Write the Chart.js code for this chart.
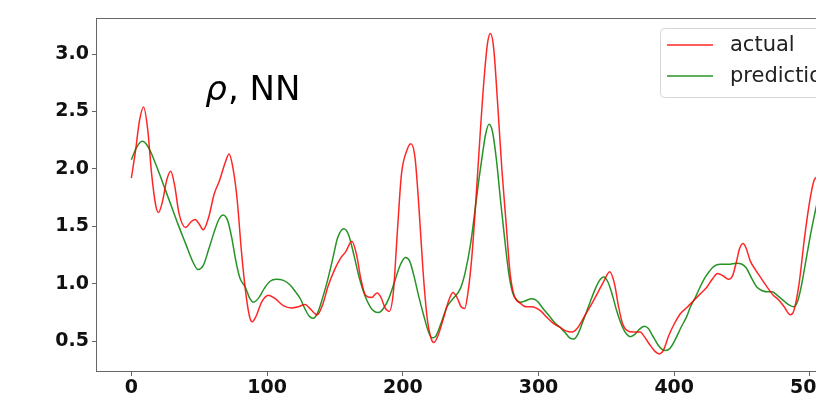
<!DOCTYPE html>
<html>
<head>
<meta charset="utf-8">
<script src="https://cdn.jsdelivr.net/npm/chart.js@4/dist/chart.umd.min.js"></script>
<style>
  html, body { margin: 0; padding: 0; background: #fff; overflow: hidden; width: 816px; height: 402px; }
  #wrap { width: 880px; height: 402px; }
</style>
</head>
<body>
<div id="wrap"><canvas id="c" width="880" height="402"></canvas></div>
<script>
  // values
  var actualX = [0, 3, 6, 9, 12, 15, 18, 20, 23, 26, 29, 32, 35, 40, 44, 47, 50, 53, 57, 61, 65, 69, 72, 75, 78, 81, 84, 87, 89, 92,
    96, 101, 106, 112, 118, 123, 128, 132, 137, 141, 145, 150, 154, 158, 162.5, 166, 169, 172.5, 177, 181, 184, 187, 190, 193, 196, 199,
    203, 206, 209, 212, 215, 218, 221, 223, 226, 230, 234, 237, 240, 243, 245.6, 248, 251, 254, 257, 260, 262.5, 264.6, 267, 270, 273,
    276, 279, 282, 286.7, 291, 295, 298, 302, 306, 311, 316, 320, 324.7, 329, 334, 339, 344, 348, 352.5, 356, 359, 362, 365.7, 370,
    375, 378, 382, 386, 389, 392, 396, 400, 404.5, 409, 414, 419, 424, 428, 432, 436, 440, 443, 446, 448, 450.7, 453, 456, 460, 463.4,
    468, 473, 477, 481, 485.6, 488, 492, 496, 500, 503, 505];
  var actualY = [1.92, 2.15, 2.42, 2.54, 2.35, 1.95, 1.68, 1.62, 1.72, 1.90, 1.98, 1.85, 1.62, 1.49, 1.54, 1.56, 1.52, 1.47, 1.58, 1.78,
    1.90, 2.05, 2.13, 2.00, 1.73, 1.30, 0.95, 0.72, 0.67, 0.72, 0.84, 0.90, 0.87, 0.81, 0.79, 0.80, 0.82, 0.78, 0.73, 0.82, 0.98, 1.13,
    1.22, 1.28, 1.37, 1.25, 1.05, 0.90, 0.88, 0.92, 0.88, 0.79, 0.76, 0.92, 1.45, 1.95, 2.16, 2.22, 2.10, 1.65, 1.10, 0.70, 0.52, 0.49,
    0.55, 0.70, 0.86, 0.925, 0.88, 0.80, 0.785, 0.92, 1.25, 1.75, 2.30, 2.80, 3.10, 3.18, 3.05, 2.55, 2.00, 1.55, 1.10, 0.90, 0.83,
    0.80, 0.80, 0.79, 0.76, 0.71, 0.655, 0.62, 0.59, 0.58, 0.62, 0.72, 0.82, 0.93, 1.02, 1.105, 1.00, 0.80, 0.65, 0.59, 0.58, 0.58,
    0.54, 0.47, 0.41, 0.39, 0.42, 0.55, 0.65, 0.74, 0.79, 0.85, 0.91, 0.97, 1.04, 1.09, 1.07, 1.04, 1.07, 1.20, 1.30, 1.35, 1.31, 1.20,
    1.12, 1.06, 0.98, 0.90, 0.86, 0.80, 0.73, 0.76, 1.00, 1.40, 1.73, 1.90, 1.93];

  var predX = [0, 4, 8, 12, 16, 20, 25, 30, 35, 40, 45, 49, 53, 57, 61, 64.5, 67.5, 71, 74, 77, 80, 84, 87, 90, 94, 98, 102, 107, 112,
    117, 121, 124.5, 128, 131, 134, 137, 141, 145, 149, 152, 156.5, 160, 164, 168, 172, 176, 179, 182, 186, 190, 194, 198, 202, 205, 208,
    212, 216, 219, 221.5, 224, 228, 232.6, 237, 242.5, 246, 250, 253, 256, 259, 261, 263.5, 266, 269, 272, 275, 278, 281, 284, 286.7,
    290, 295, 299, 303, 308, 312, 316, 320, 323, 326, 329, 333, 338, 342, 345, 348, 351, 354, 358, 362, 365, 367.7, 371, 374, 378, 381,
    384, 388, 391, 393.5, 397, 401, 405, 409, 412, 415.5, 419, 423, 426, 429, 434, 440, 446, 450, 453, 457, 461, 465, 469, 472, 476,
    480, 484, 488, 491, 494, 497, 500, 503, 505];
  var predY = [2.08, 2.19, 2.24, 2.20, 2.10, 1.98, 1.82, 1.66, 1.50, 1.35, 1.20, 1.125, 1.16, 1.30, 1.45, 1.56, 1.60, 1.55, 1.40, 1.20,
    1.05, 0.97, 0.88, 0.84, 0.88, 0.96, 1.02, 1.04, 1.03, 0.99, 0.93, 0.87, 0.78, 0.72, 0.70, 0.74, 0.88, 1.05, 1.25, 1.40, 1.48, 1.43,
    1.25, 1.05, 0.90, 0.80, 0.76, 0.75, 0.79, 0.88, 1.02, 1.16, 1.23, 1.20, 1.08, 0.88, 0.70, 0.58, 0.53, 0.54, 0.65, 0.80, 0.87, 0.96,
    1.10, 1.35, 1.62, 1.90, 2.15, 2.30, 2.39, 2.33, 2.08, 1.73, 1.40, 1.10, 0.92, 0.86, 0.84, 0.85, 0.87, 0.85, 0.79, 0.72, 0.66, 0.62,
    0.57, 0.53, 0.52, 0.56, 0.68, 0.84, 0.96, 1.03, 1.06, 1.02, 0.92, 0.75, 0.62, 0.56, 0.54, 0.56, 0.60, 0.63, 0.61, 0.55, 0.47, 0.43,
    0.42, 0.44, 0.52, 0.62, 0.71, 0.80, 0.88, 0.97, 1.06, 1.11, 1.15, 1.17, 1.17, 1.18, 1.17, 1.14, 1.05, 0.97, 0.94, 0.93, 0.93, 0.90,
    0.86, 0.82, 0.80, 0.85, 1.00, 1.20, 1.40, 1.58, 1.69];

  var xTicks = [0, 100, 200, 300, 400, 500];
  var yTicks = [0.5, 1.0, 1.5, 2.0, 2.5, 3.0];
  var seriesLabels = ['actual', 'prediction'];
  var annotation = { x: 54.5, y: 2.6, symbol: 'ρ', rest: ', NN' };

  var RED = 'rgba(255,0,0,0.85)';
  var GREEN = 'rgba(0,128,0,0.85)';
  var SPINE = '#666';
  var FONT = '"DejaVu Sans", Verdana, sans-serif';

  function toPoints(xs, ys) {
    return xs.map(function (x, i) { return { x: x, y: ys[i] }; });
  }

  var framePlugin = {
    id: 'frame',
    afterDraw: function (chart) {
      var ctx = chart.ctx;
      var a = chart.chartArea;
      ctx.save();
      // spines
      ctx.strokeStyle = SPINE;
      ctx.lineWidth = 1;
      ctx.strokeRect(a.left - 0.5, a.top + 0.5, a.right - a.left, a.bottom - a.top);

      // annotation text, placed in data coordinates
      var px = chart.scales.x.getPixelForValue(annotation.x);
      var py = chart.scales.y.getPixelForValue(annotation.y);
      ctx.fillStyle = '#000';
      ctx.textBaseline = 'alphabetic';
      ctx.font = 'italic 34px ' + FONT;
      ctx.fillText(annotation.symbol, px, py);
      var w = ctx.measureText(annotation.symbol).width;
      ctx.font = '34px ' + FONT;
      ctx.fillText(annotation.rest, px + w + 1, py);

      // legend box (upper right, matplotlib style)
      var colors = [RED, GREEN];
      var bx = 660, by = 28, bw = a.right - 7 - bx, bh = 69;
      ctx.beginPath();
      if (ctx.roundRect) ctx.roundRect(bx + 0.5, by + 0.5, bw, bh, 4); else ctx.rect(bx + 0.5, by + 0.5, bw, bh);
      ctx.fillStyle = 'rgba(255,255,255,0.8)';
      ctx.fill();
      ctx.strokeStyle = '#d6d6d6';
      ctx.stroke();
      ctx.font = '21px ' + FONT;
      ctx.textBaseline = 'middle';
      seriesLabels.forEach(function (lab, i) {
        var ly = 45 + i * 31;
        ctx.strokeStyle = colors[i];
        ctx.lineWidth = 1.5;
        ctx.beginPath();
        ctx.moveTo(667, ly);
        ctx.lineTo(713, ly);
        ctx.stroke();
        ctx.fillStyle = '#222';
        ctx.fillText(lab, 730, ly + 1);
      });
      ctx.restore();
    }
  };

  new Chart(document.getElementById('c').getContext('2d'), {
    type: 'line',
    data: {
      datasets: [{
        label: seriesLabels[0],
        data: toPoints(actualX, actualY),
        borderColor: RED,
        borderWidth: 1.5,
        pointRadius: 0,
        cubicInterpolationMode: 'monotone',
        fill: false,
      }, {
        label: seriesLabels[1],
        data: toPoints(predX, predY),
        borderColor: GREEN,
        borderWidth: 1.5,
        pointRadius: 0,
        cubicInterpolationMode: 'monotone',
        fill: false,
      }],
    },
    options: {
      responsive: false,
      animation: false,
      devicePixelRatio: 1,
      layout: { padding: { top: 18, right: 28, left: 0, bottom: 0 } },
      plugins: { legend: { display: false }, tooltip: { enabled: false } },
      scales: {
        x: {
          type: 'linear',
          min: -25.3,
          max: 531,
          afterFit: function (s) { s.height = 31; },
          afterBuildTicks: function (s) { s.ticks = xTicks.map(function (v) { return { value: v }; }); },
          grid: { drawOnChartArea: false, drawTicks: true, tickLength: 5, color: SPINE },
          border: { display: false },
          ticks: {
            padding: 1,
            maxRotation: 0,
            color: '#111',
            font: { family: FONT, size: 19, weight: 'bold' },
            callback: function (v) { return String(v); },
          },
        },
        y: {
          type: 'linear',
          min: 0.241,
          max: 3.314,
          afterFit: function (s) { s.width = 97; },
          afterBuildTicks: function (s) { s.ticks = yTicks.map(function (v) { return { value: v }; }); },
          grid: { drawOnChartArea: false, drawTicks: true, tickLength: 5, color: SPINE },
          border: { display: false },
          ticks: {
            padding: 3,
            color: '#111',
            font: { family: FONT, size: 19, weight: 'bold' },
            callback: function (v) { return v.toFixed(1); },
          },
        },
      },
    },
    plugins: [framePlugin],
  });
</script>
</body>
</html>
